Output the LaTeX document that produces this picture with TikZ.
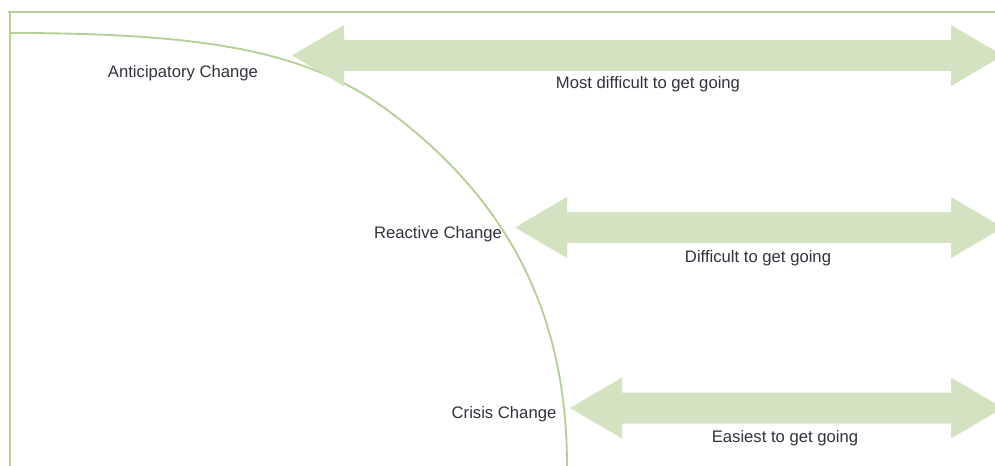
\documentclass[tikz,border=0pt]{standalone}
\usepackage{fontspec}
\setmainfont{Liberation Sans}
\usetikzlibrary{positioning}

\definecolor{linegreen}{RGB}{181,208,150}
\definecolor{arrowgreen}{RGB}{211,226,192}
\definecolor{labelgray}{RGB}{50,50,62}

% wide arrow with a head on both ends: name, left tip, right tip, middle
\newcommand{\bothways}[4]{%
  \fill[arrowgreen] (#2,#4) -- (#2+52,#4-30.5) -- (#2+52,#4-15.5)
    -- (#3-52,#4-15.5) -- (#3-52,#4-30.5) -- (#3,#4)
    -- (#3-52,#4+30.5) -- (#3-52,#4+15.5) -- (#2+52,#4+15.5)
    -- (#2+52,#4+30.5) -- cycle;
  \coordinate (#1) at ({(#2+#3)/2},#4);}

\begin{document}
\begin{tikzpicture}[x=0.75pt,y=-0.75pt,
  frame/.style={linegreen,line width=2pt},
  curve/.style={linegreen,line width=1.4pt},
  label/.style={labelgray,inner sep=0pt,font=\fontsize{12.5}{14}\selectfont}]

 \useasboundingbox (0,0) rectangle (995,466);
 \clip (0,0) rectangle (995,466);

% frame
 \draw[frame] (8,12) -- (995,12);
 \draw[frame] (10,12) -- (10,466);

% the curve
 \draw[curve] (10,33) .. controls (210,33) and (310,52) .. (390,112)
   .. controls (510,202) and (567,316) .. (567,466);

% arrows
 \bothways{most}{292}{1003}{55.5}
 \bothways{less}{515}{1003}{227.5}
 \bothways{easy}{570}{1003}{408}

% labels
 \node[label] (anticipatory) at (183,73.5) {Anticipatory Change};
 \node[label] (reactive) at (438,234.5) {Reactive Change};
 \node[label] (crisis) at (504,414.5) {Crisis Change};

 \node[label] (mostlabel) at (648,84.5) {Most difficult to get going};
 \node[label] (lesslabel) at (758,258.5) {Difficult to get going};
 \node[label] (easylabel) at (785,438.5) {Easiest to get going};

\end{tikzpicture}
\end{document}
